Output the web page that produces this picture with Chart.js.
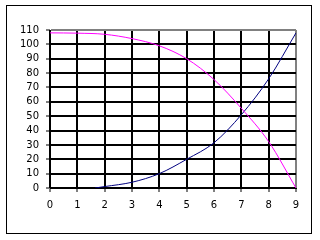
<!DOCTYPE html>
<html>
<head>
<meta charset="utf-8">
<script src="https://cdn.jsdelivr.net/npm/chart.js@4/dist/chart.umd.min.js"></script>
<style>
    html, body { margin: 0; padding: 0; background: #fff; }
    canvas { display: block; }
</style>
</head>
<body>
<canvas id="grafico" width="320" height="240"></canvas>
<script>
// Dados
const xMagenta = [0, 1, 2, 3, 4, 5, 6, 7, 8, 9];
const valoresMagenta = [108, 107.8, 107, 104, 99, 90, 75.5, 55.5, 32.3, 0];
const xAzul = [1.65, 2, 3, 4, 5, 6, 7, 8, 9];
const valoresAzul = [0, 1, 4, 10, 20, 31.5, 51, 76, 108];
const ticksY = [0, 10, 20, 30, 40, 50, 60, 70, 80, 90, 100, 110];
const ticksX = [0, 1, 2, 3, 4, 5, 6, 7, 8, 9];

const pontos = (xs, ys) => xs.map((x, i) => ({ x: x, y: ys[i] }));

// Moldura exterior
const moldura = {
    id: 'moldura',
    afterDraw(chart) {
        const c = chart.ctx;
        c.save();
        c.strokeStyle = '#000';
        c.lineWidth = 1;
        c.strokeRect(6.5, 5.5, 305, 228);
        c.restore();
    }
};

const fonte = { family: '"DejaVu Sans", sans-serif', size: 10 };

new Chart(document.getElementById('grafico'), {
    type: 'scatter',
    data: {
        datasets: [
            {
                data: pontos(xMagenta, valoresMagenta),
                borderColor: '#FF00FF',
                borderWidth: 1,
                showLine: true,
                pointRadius: 0,
                cubicInterpolationMode: 'monotone'
            },
            {
                data: pontos(xAzul, valoresAzul),
                borderColor: '#000080',
                borderWidth: 1,
                showLine: true,
                pointRadius: 0,
                cubicInterpolationMode: 'monotone'
            }
        ]
    },
    options: {
        responsive: false,
        animation: false,
        devicePixelRatio: 1,
        layout: { padding: { left: 0, top: 30, right: 24, bottom: 0 } },
        plugins: { legend: { display: false }, tooltip: { enabled: false } },
        scales: {
            x: {
                type: 'linear',
                min: 0,
                max: 9,
                afterFit: (s) => { s.height = 52; },
                afterBuildTicks: (s) => { s.ticks = ticksX.map(v => ({ value: v })); },
                ticks: { color: '#000', font: fonte, padding: 7, maxRotation: 0, autoSkip: false },
                grid: {
                    color: (ctx) => ctx.tick && ctx.tick.value === 9 ? '#808080' : '#000',
                    lineWidth: 2,
                    tickLength: 4,
                    tickColor: '#000',
                    tickWidth: 1
                },
                border: { color: '#000', width: 1 }
            },
            y: {
                min: 0,
                max: 110,
                afterFit: (s) => { s.width = 50; },
                afterBuildTicks: (s) => { s.ticks = ticksY.map(v => ({ value: v })); },
                ticks: { color: '#000', font: fonte, padding: 7, autoSkip: false },
                grid: {
                    color: (ctx) => ctx.tick && ctx.tick.value === 110 ? '#808080' : '#000',
                    lineWidth: 2,
                    tickLength: 4,
                    tickColor: '#000',
                    tickWidth: 1
                },
                border: { color: '#000', width: 1 }
            }
        }
    },
    plugins: [moldura]
});
</script>
</body>
</html>
